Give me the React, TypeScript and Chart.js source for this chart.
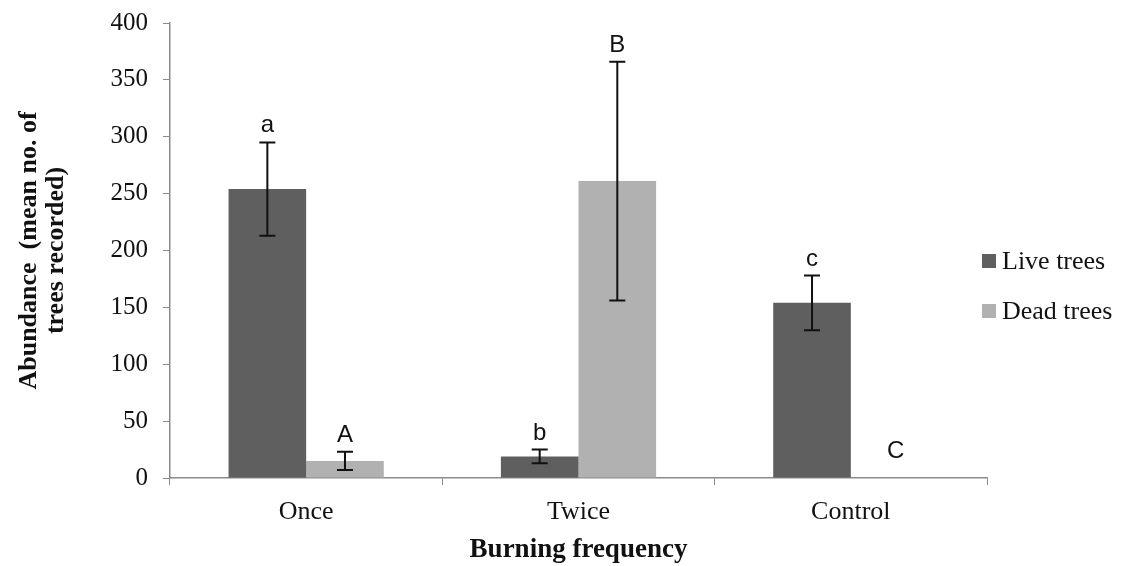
import React, { useEffect, useRef } from "react";
import { Chart, registerables } from "chart.js";

Chart.register(...registerables);

const categories = ["Once", "Twice", "Control"];
const seriesNames = ["Live trees", "Dead trees"];
const liveValues = [254, 19, 154];
const deadValues = [15, 261, 0];
const liveErrors = [41, 6, 24];
const deadErrors = [8, 105, 0];
const liveLetters = ["a", "b", "c"];
const deadLetters = ["A", "B", "C"];
const yTicks = { min: 0, max: 400, step: 50 };
const yTitle = ["Abundance  (mean no. of", "trees recorded)"];
const xTitle = "Burning frequency";

const LIVE_COLOR = "#5f5f5f";
const DEAD_COLOR = "#b1b1b1";
const AXIS_COLOR = "#8a8a8a";
const SERIF = "'Liberation Serif', 'Times New Roman', serif";
const SANS = "'Liberation Sans', Arial, sans-serif";

const errors = [liveErrors, deadErrors];
const letters = [liveLetters, deadLetters];

const errorBarPlugin = {
  id: "errorBars",
  afterDatasetsDraw(chart: any) {
    const ctx = chart.ctx;
    const yScale = chart.scales.y;
    ctx.save();
    chart.data.datasets.forEach((ds: any, di: number) => {
      const meta = chart.getDatasetMeta(di);
      meta.data.forEach((bar: any, i: number) => {
        const v = ds.data[i];
        const e = errors[di][i];
        const x = bar.x;
        let topY = yScale.getPixelForValue(v);
        if (e > 0) {
          const yTop = yScale.getPixelForValue(v + e);
          const yBot = yScale.getPixelForValue(v - e);
          ctx.strokeStyle = "#111";
          ctx.lineWidth = 2;
          ctx.beginPath();
          ctx.moveTo(x, yTop);
          ctx.lineTo(x, yBot);
          ctx.moveTo(x - 8, yTop);
          ctx.lineTo(x + 8, yTop);
          ctx.moveTo(x - 8, yBot);
          ctx.lineTo(x + 8, yBot);
          ctx.stroke();
          topY = yTop;
        }
        const lab = letters[di][i];
        ctx.fillStyle = "#111";
        ctx.font = `24px ${SANS}`;
        ctx.textAlign = "center";
        ctx.textBaseline = "alphabetic";
        const gap = e > 0 ? 10 : 20;
        ctx.fillText(lab, x + (e > 0 ? 0 : 6), topY - gap);
      });
    });
    ctx.restore();
  },
};

const legendPlugin = {
  id: "customLegend",
  afterDraw(chart: any) {
    const ctx = chart.ctx;
    ctx.save();
    const x0 = 982;
    const rows = [261, 311];
    chart.data.datasets.forEach((ds: any, di: number) => {
      const cy = rows[di];
      ctx.fillStyle = ds.backgroundColor;
      ctx.fillRect(x0, cy - 7, 14, 14);
      ctx.fillStyle = "#111";
      ctx.font = `26px ${SERIF}`;
      ctx.textAlign = "left";
      ctx.textBaseline = "middle";
      ctx.fillText(ds.label, x0 + 20, cy + 1);
    });
    ctx.restore();
  },
};

export default function App() {
  const ref = useRef<HTMLCanvasElement | null>(null);
  useEffect(() => {
    document.body.style.margin = "0";
    const canvas = ref.current;
    if (!canvas) return;
    const chart = new Chart(canvas, {
      type: "bar",
      data: {
        labels: categories,
        datasets: [
          { label: seriesNames[0], data: liveValues, backgroundColor: LIVE_COLOR, categoryPercentage: 0.57, barPercentage: 1.0 },
          { label: seriesNames[1], data: deadValues, backgroundColor: DEAD_COLOR, categoryPercentage: 0.57, barPercentage: 1.0 },
        ],
      },
      options: {
        animation: false,
        responsive: false,
        maintainAspectRatio: false,
        devicePixelRatio: 1,
        layout: { padding: { top: 23, right: 138, left: 0, bottom: 0 } },
        plugins: { legend: { display: false }, tooltip: { enabled: false } },
        scales: {
          x: {
            offset: true,
            grid: { display: true, drawOnChartArea: false, offset: true, color: AXIS_COLOR, tickColor: AXIS_COLOR, tickLength: 7 },
            border: { display: true, color: AXIS_COLOR, width: 1.5 },
            ticks: { color: "#111", font: { family: SERIF, size: 26 }, padding: 12 },
            title: { display: true, text: xTitle, color: "#111", font: { family: SERIF, size: 27, weight: "bold" }, padding: { top: 0, bottom: 0 } },
            afterFit(scale: any) { scale.height = 88; scale.paddingLeft = 0; scale.paddingRight = 0; },
          },
          y: {
            min: yTicks.min,
            max: yTicks.max,
            grid: { display: true, drawOnChartArea: false, color: AXIS_COLOR, tickColor: AXIS_COLOR, tickLength: 7 },
            border: { display: true, color: AXIS_COLOR, width: 1.5 },
            ticks: { stepSize: yTicks.step, color: "#111", font: { family: SERIF, size: 25 }, padding: 15 },
            title: { display: true, text: yTitle, color: "#111", font: { family: SERIF, size: 26, weight: "bold", lineHeight: 1.04 }, padding: { top: 16, bottom: 0 } },
            afterFit(scale: any) { scale.width = 170; scale.paddingTop = 0; scale.paddingBottom = 0; },
          },
        },
      },
      plugins: [errorBarPlugin, legendPlugin],
    });
    return () => chart.destroy();
  }, []);
  return (
    <div style={{ width: 1125, height: 566, background: "#fff" }}>
      <canvas ref={ref} width={1125} height={566} style={{ display: "block" }} />
    </div>
  );
}
